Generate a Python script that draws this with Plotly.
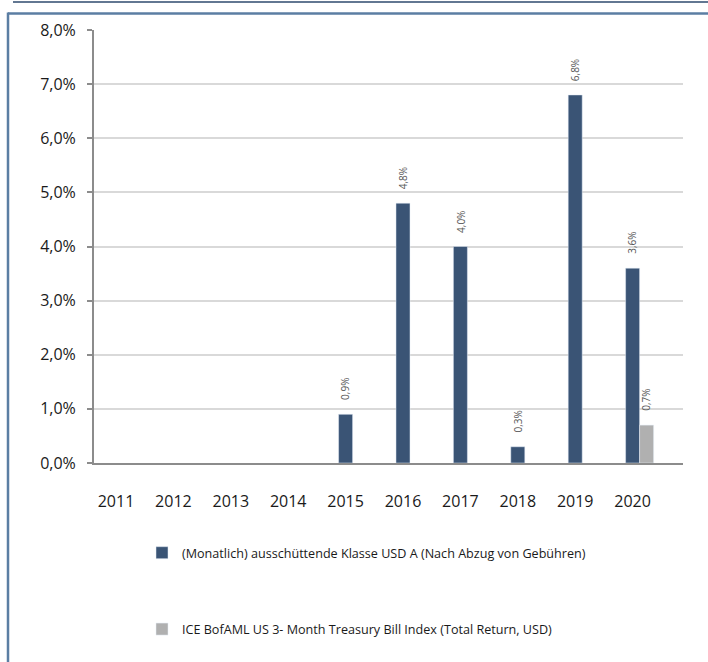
import plotly.graph_objects as go

years = ["2011", "2012", "2013", "2014", "2015", "2016", "2017", "2018", "2019", "2020"]
fund_name = "(Monatlich) ausschüttende Klasse USD A (Nach Abzug von Gebühren)"
fund_values = [None, None, None, None, 0.9, 4.8, 4.0, 0.3, 6.8, 3.6]
index_name = "ICE BofAML US 3- Month Treasury Bill Index (Total Return, USD)"
index_values = [None, None, None, None, None, None, None, None, None, 0.7]

W, H = 708, 662
ML, MR, MT, MB = 94, 25, 30, 199
PW, PH = W - ML - MR, H - MT - MB

BLUE = "#3a5475"
GRAY = "#b0b0b0"
BW = 0.244

fig = go.Figure()
fig.add_trace(go.Bar(x=years, y=fund_values, name=fund_name, marker_color=BLUE,
                     width=BW, offset=-BW / 2, legendgroup="a"))
fig.add_trace(go.Bar(x=years, y=index_values, name=index_name, marker_color=GRAY,
                     width=BW, offset=BW / 2, legendgroup="b"))

def fmt(v):
    return f"{v:.1f}".replace(".", ",") + "%"

ann = []
for vals, shift in ((fund_values, 0), (index_values, 14)):
    for i, v in enumerate(vals):
        if v is None:
            continue
        ann.append(dict(x=i, y=v, xref="x", yref="y", text=fmt(v), showarrow=False,
                        textangle=-90, xanchor="center", yanchor="bottom",
                        xshift=shift, yshift=12,
                        font=dict(family="Open Sans", size=10, color="#595959")))

def px(x):
    return (x - ML) / PW

def py(y):
    return (H - MB - y) / PH

shapes = [
    dict(type="line", xref="paper", yref="paper", x0=px(13), x1=px(708), y0=py(2), y1=py(2),
         line=dict(color="#2e4a6e", width=1.5)),
    dict(type="line", xref="paper", yref="paper", x0=px(8), x1=px(708), y0=py(13.5), y1=py(13.5),
         line=dict(color="#5b7ea3", width=2.5)),
    dict(type="line", xref="paper", yref="paper", x0=px(8), x1=px(8), y0=py(12.5), y1=py(662),
         line=dict(color="#5b7ea3", width=2.5)),
]

fig.update_layout(
    width=W, height=H,
    margin=dict(l=ML, r=MR, t=MT, b=MB, autoexpand=False),
    paper_bgcolor="white", plot_bgcolor="white",
    barmode="overlay",
    separators=", ",
    font=dict(family="Open Sans", size=16, color="#1a1a1a"),
    annotations=ann,
    shapes=shapes,
    legend=dict(xref="container", yref="container", x=142 / W, y=1 - 538 / H,
                xanchor="left", yanchor="top", tracegroupgap=57,
                font=dict(family="Open Sans", size=12.6, color="#1a1a1a"),
                bgcolor="rgba(0,0,0,0)"),
    xaxis=dict(type="category", range=[-0.383, 9.878], showgrid=False,
               showline=True, linecolor="#8c8c8c", linewidth=2,
               ticks="", ticklabelstandoff=23,
               tickfont=dict(family="Open Sans", size=16, color="#1a1a1a")),
    yaxis=dict(range=[0, 8], dtick=1, tickformat=".1f", ticksuffix="%",
               showgrid=True, gridcolor="#d9d9d9", gridwidth=1.5,
               showline=True, linecolor="#8c8c8c", linewidth=2,
               ticks="outside", ticklen=5, tickcolor="#8c8c8c", tickwidth=1.5,
               ticklabelstandoff=8, zeroline=False,
               tickfont=dict(family="Open Sans", size=16, color="#1a1a1a")),
)

fig.write_html("out.html", config={"displayModeBar": False},
               post_script="document.body.style.margin='0';")
